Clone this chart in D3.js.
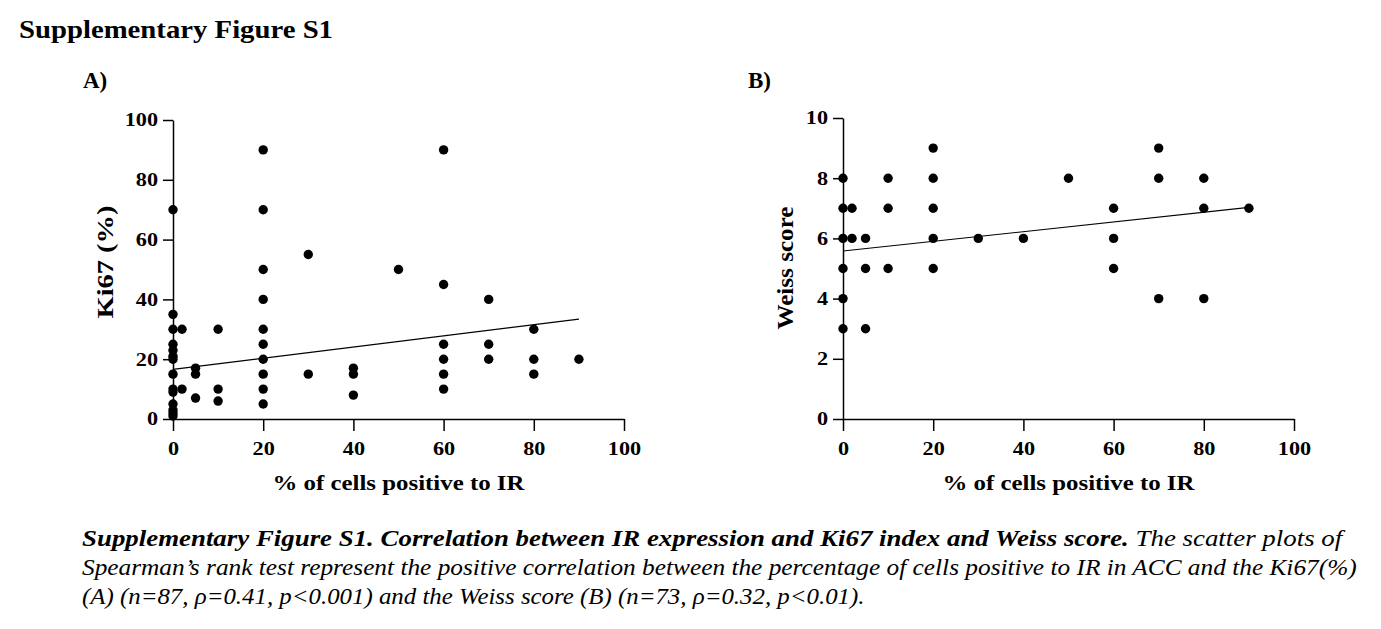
<!DOCTYPE html>
<html>
<head>
<meta charset="utf-8">
<script src="https://cdn.jsdelivr.net/npm/d3@7"></script>
<style>
body { margin: 0; background: #fff; }
svg text { font-family: "Liberation Serif", "Times New Roman", serif; fill: #000; }
</style>
</head>
<body>
<div class="content"></div>
<script>
// tick labels
var irTicks = [0, 20, 40, 60, 80, 100];
var ki67Ticks = [0, 20, 40, 60, 80, 100];
var weissTicks = [0, 2, 4, 6, 8, 10];

// panel A: % IR positive cells vs Ki67 (%)
var ki67IR  = [0,0,0,0,0,0,0,0,0,0,0,0,0,0, 2,2, 5,5,5, 10,10,10,
               20,20,20,20,20,20,20,20,20,20, 30,30, 40,40,40, 50,
               60,60,60,60,60,60, 70,70,70, 80,80,80, 90];
var ki67Val = [70,35,30,25,23,21,20,15,10,9,5,3,2,1, 30,10, 17,15,7, 30,10,6,
               90,70,50,40,30,25,20,15,10,5, 55,15, 17,15,8, 50,
               90,45,25,20,15,10, 40,25,20, 30,20,15, 20];
var ki67Fit = [[0, 16.6], [90, 33.4]];

// panel B: % IR positive cells vs Weiss score
var weissIR  = [0,0,0,0,0,0, 2,2, 5,5,5, 10,10,10, 20,20,20,20,20, 30, 40, 50,
                60,60,60, 70,70,70, 80,80,80, 90];
var weissVal = [8,7,6,5,4,3, 7,6, 6,5,3, 8,7,5, 9,8,7,6,5, 6, 6, 8,
                7,6,5, 9,8,4, 8,7,4, 7];
var weissFit = [[0, 5.58], [90, 7.03]];

var figTitle = 'Supplementary Figure S1';
var xTitle = '% of cells positive to IR';
var captionBold = 'Supplementary Figure S1. Correlation between IR expression and Ki67 index and Weiss score.';
var captionLines = [
    ' The scatter plots of',
    'Spearman\u2019s rank test represent the positive correlation between the percentage of cells positive to IR in ACC and the Ki67(%)',
    '(A) (n=87, \u03c1=0.41, p<0.001) and the Weiss score (B) (n=73, \u03c1=0.32, p<0.01).'
];

var W = 1381, H = 629;
var svg = d3.select('.content').append('svg')
    .attr('width', W)
    .attr('height', H);

// stretch glyphs sideways, the figure was exported wide
function stretch(sel, k) {
    sel.each(function() {
        var len = this.getComputedTextLength();
        d3.select(this).attr('textLength', len * k).attr('lengthAdjust', 'spacingAndGlyphs');
    });
}
function fitTo(sel, w) {
    sel.attr('textLength', w).attr('lengthAdjust', 'spacingAndGlyphs');
}

fitTo(svg.append('text')
    .attr('x', 19).attr('y', 38)
    .style('font-family', '"Liberation Serif", serif')
    .style('font-size', '26px').style('font-weight', 'bold')
    .text(figTitle), 314);

function panel(opt) {
    var x = d3.scaleLinear().domain([0, 100]).range([opt.left, opt.left + 451]);
    var y = d3.scaleLinear().domain(opt.yDomain).range([419, opt.top]);
    var g = svg.append('g');

    g.append('g')
        .attr('transform', 'translate(0,419)')
        .call(d3.axisBottom(x).tickValues(irTicks).tickSizeInner(12).tickSizeOuter(0).tickPadding(11));
    g.append('g')
        .attr('transform', 'translate(' + opt.left + ',0)')
        .call(d3.axisLeft(y).tickValues(opt.yTicks).tickSizeInner(10).tickSizeOuter(0).tickPadding(5));

    g.selectAll('.domain, .tick line').attr('stroke', '#000').attr('stroke-width', 1.5);
    g.selectAll('.tick text')
        .style('font-family', '"Liberation Serif", serif')
        .style('font-size', '18.5px')
        .style('font-weight', 'bold')
        .attr('fill', '#000')
        .call(stretch, 1.2);

    g.selectAll('circle')
        .data(opt.xs)
        .join('circle')
        .attr('cx', function(d) { return x(d); })
        .attr('cy', function(d, i) { return y(opt.ys[i]); })
        .attr('r', 4.7)
        .attr('fill', '#000');

    var line = d3.line()
        .x(function(d) { return x(d[0]); })
        .y(function(d) { return y(d[1]); });
    g.append('path')
        .attr('d', line(opt.fit))
        .attr('fill', 'none')
        .attr('stroke', '#000')
        .attr('stroke-width', 1.1);

    fitTo(g.append('text')
        .attr('x', (x(0) + x(100)) / 2).attr('y', 490)
        .attr('text-anchor', 'middle')
        .style('font-family', '"Liberation Serif", serif')
        .style('font-size', '22px').style('font-weight', 'bold')
        .text(xTitle), 252);

    fitTo(g.append('text')
        .attr('transform', 'translate(' + opt.yTitleX + ',' + opt.yTitleY + ') rotate(-90)')
        .attr('text-anchor', 'middle')
        .style('font-family', '"Liberation Serif", serif')
        .style('font-size', '23px').style('font-weight', 'bold')
        .text(opt.yTitle), opt.yTitleLen);

    g.append('text')
        .attr('x', opt.labelX).attr('y', 88)
        .style('font-family', '"Liberation Serif", serif')
        .style('font-size', '23px').style('font-weight', 'bold')
        .text(opt.label);
}

panel({
    left: 173, top: 120, yDomain: [0, 100], yTicks: ki67Ticks,
    xs: ki67IR, ys: ki67Val, fit: ki67Fit,
    yTitle: 'Ki67 (%)', yTitleX: 113, yTitleY: 262, yTitleLen: 113,
    label: 'A)', labelX: 83
});
panel({
    left: 843, top: 118, yDomain: [0, 10], yTicks: weissTicks,
    xs: weissIR, ys: weissVal, fit: weissFit,
    yTitle: 'Weiss score', yTitleX: 793, yTitleY: 268, yTitleLen: 123,
    label: 'B)', labelX: 748
});

// caption, three lines squeezed to the reference widths
var capY = [546, 575, 603.5];
var capW = [1261, 1275, 783];
var cap = svg.append('g')
    .style('font-family', '"Liberation Serif", serif')
    .style('font-size', '23px')
    .style('font-style', 'italic');
captionLines.forEach(function(s, i) {
    var t = cap.append('text').attr('x', 0).attr('y', 0);
    if (i === 0) {
        t.append('tspan').style('font-weight', 'bold').text(captionBold);
    }
    t.append('tspan').text(s);
    var len = t.node().getComputedTextLength();
    t.attr('transform', 'translate(82,' + capY[i] + ') scale(' + (capW[i] / len) + ',1)');
});
</script>
</body>
</html>
